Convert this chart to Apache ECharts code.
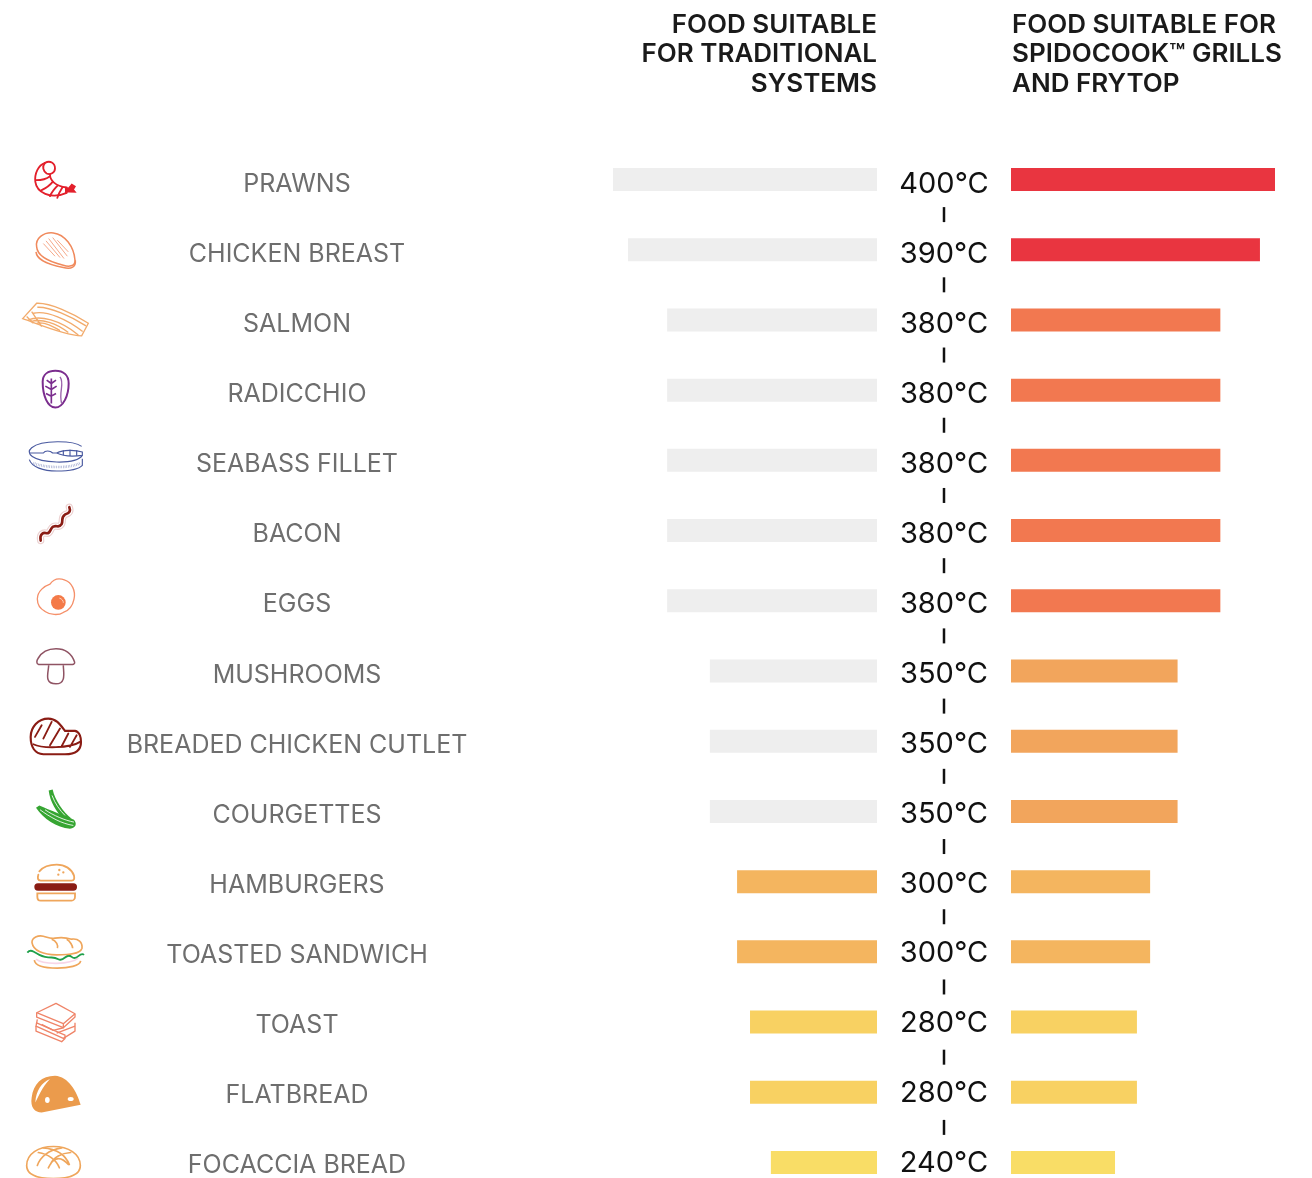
<!DOCTYPE html>
<html>
<head>
<meta charset="utf-8">
<title>Food cooking temperatures</title>
<script src="https://cdn.jsdelivr.net/npm/echarts@6/dist/echarts.min.js"></script>
<style>
    html, body { margin: 0; padding: 0; background: #fff; }
    #chart { width: 1312px; height: 1178px; }
</style>
</head>
<body>
<div id="chart"></div>
<script>
// ──── data ────
const foods = ['PRAWNS', 'CHICKEN BREAST', 'SALMON', 'RADICCHIO', 'SEABASS FILLET', 'BACON', 'EGGS', 'MUSHROOMS',
    'BREADED CHICKEN CUTLET', 'COURGETTES', 'HAMBURGERS', 'TOASTED SANDWICH', 'TOAST', 'FLATBREAD', 'FOCACCIA BREAD'];
const temperatures = [400, 390, 380, 380, 380, 380, 380, 350, 350, 350, 300, 300, 280, 280, 240];
// bar lengths are not proportional to the temperature, so they are read separately (longest bar = 100)
const traditionalLength = [100, 94.3, 79.5, 79.5, 79.5, 79.5, 79.5, 63.3, 63.3, 63.3, 53, 53, 48.1, 48.1, 40.2];
const spidocookLength = [100, 94.3, 79.3, 79.3, 79.3, 79.3, 79.3, 63.1, 63.1, 63.1, 52.7, 52.7, 47.7, 47.7, 39.4];

const GREY = '#eeeeee';
const spidocookColors = ['#e93540', '#e93540', '#f27850', '#f27850', '#f27850', '#f27850', '#f27850',
    '#f2a55c', '#f2a55c', '#f2a55c', '#f4b55f', '#f4b55f', '#f8d162', '#f8d162', '#f9dd66'];
const traditionalColors = spidocookColors.map((c, i) => (i < 10 ? GREY : c));

// ──── food icons, in 3x reference units around each row centre ────
const ICONS = [
    [88, `<g fill="none" stroke="#e3202c" stroke-width="5.5" stroke-linecap="round">
        <path d="M135 38C115 45 103 70 106 95C110 125 150 150 200 128"/>
        <path d="M135 38C150 30 165 38 165 55C165 68 150 75 140 70C130 63 125 50 135 38Z"/>
        <path d="M150 73C150 90 165 108 200 112"/>
        <path d="M108 90C120 90 135 90 150 78M125 120C135 115 150 105 158 95M150 138C155 125 165 115 172 107M172 143C175 130 182 120 187 112"/></g>
        <path fill="#e3202c" d="M195 110L205 112L215 100L228 108L222 118L230 128L205 127L195 130Z"/>`],
    [298.5, `<g fill="none" stroke="#f08a5d" stroke-width="4.5">
        <path d="M110 290C105 265 130 245 160 248C195 252 222 290 225 330C226 350 205 350 190 345C170 340 112 325 110 290Z"/>
        <path d="M108 305C110 325 130 340 190 352C215 358 228 350 226 330"/>
        <path stroke-width="3" stroke="#f6a98a" d="M130 280L165 318M138 272L180 322M146 265L192 325M158 262L202 318M172 270L205 305"/></g>`],
    [510, `<g fill="none" stroke="#f2ab6c" stroke-width="4">
        <path d="M68 506L110 460C150 458 220 490 265 520L245 558C190 555 110 520 68 506Z"/>
        <path d="M85 510C120 495 180 510 235 555M100 490C140 480 205 510 248 545M112 472C150 470 215 500 258 528M92 515C125 505 170 520 205 548M110 520C135 515 160 530 180 542M80 500L100 520M95 485L125 530"/></g>`],
    [720, `<g fill="none" stroke="#7b2d8e" stroke-width="6">
        <path d="M128 695C128 672 145 662 166 662C190 662 206 675 206 700C206 735 190 772 166 772C142 772 128 735 128 695Z"/>
        <path stroke-width="5" d="M154 685V760M154 700L140 690M154 700L168 690M154 718L136 708M154 718L170 708M154 738L138 730M154 738L168 730"/>
        <path stroke-width="4" stroke="#9a62aa" d="M180 680C195 700 175 725 185 760"/></g>`],
    [930, `<g fill="none" stroke="#4a5aa0" stroke-width="3.5">
        <path d="M245 888C220 870 125 868 95 892C75 908 95 932 170 935C210 936 238 928 247 915"/>
        <path d="M88 908H130C135 900 150 900 158 908H170C190 898 225 898 247 905L247 915C225 918 190 918 170 908"/>
        <path d="M190 900V915M210 898V917M230 900V916"/>
        <path d="M88 928C95 950 130 962 170 962C210 962 238 955 247 945V925"/>
        <path stroke="#a3abd0" stroke-width="8" stroke-dasharray="2 3" d="M100 938C130 952 210 956 240 938"/></g>`],
    [120, `<path fill="none" stroke="#ecd2d2" stroke-width="22" stroke-linecap="round" d="M122 150C118 130 130 125 140 128C152 130 150 112 160 108C172 102 175 115 185 100C190 90 182 80 195 72C210 68 212 60 208 50"/>
        <path fill="none" stroke="#fff" stroke-width="15" stroke-linecap="round" d="M122 150C118 130 130 125 140 128C152 130 150 112 160 108C172 102 175 115 185 100C190 90 182 80 195 72C210 68 212 60 208 50"/>
        <path fill="none" stroke="#8a1c14" stroke-width="8" stroke-linecap="round" d="M122 150C118 130 130 125 140 128C152 130 150 112 160 108C172 102 175 115 185 100C190 90 182 80 195 72C210 68 212 60 208 50"/>`],
    [330, `<path fill="none" stroke="#f5906a" stroke-width="4" d="M112 325C112 300 135 285 150 280C160 265 175 260 195 268C215 275 228 300 222 325C218 345 205 360 190 365C175 375 150 372 135 362C122 355 112 345 112 325Z"/>
        <circle cx="175" cy="335" r="22" fill="#f47a48"/>
        <path fill="none" stroke="#fbd1bd" stroke-width="3" d="M178 322C186 324 190 330 190 336"/>`],
    [541.5, `<g fill="none" stroke="#8f5363" stroke-width="4.5">
        <path d="M116 522C108 520 110 510 114 504C125 485 145 475 168 475C195 475 215 490 224 515C225 522 218 522 212 522Z"/>
        <path d="M146 524C146 545 130 580 168 580C200 580 190 545 190 524"/></g>`],
    [753, `<g fill="none" stroke="#8a1c14" stroke-width="6.5" stroke-linecap="round">
        <path d="M92 740C92 710 115 685 145 685C170 685 182 705 195 722H225C240 725 243 745 243 755C243 780 225 792 195 792H130C105 790 92 770 92 740Z"/>
        <path stroke-width="5.5" d="M100 762C125 775 210 775 240 755M125 705L105 740M155 695L130 745M180 715L150 765M205 730L185 768M230 735L210 770"/></g>`],
    [963, `<path fill="#36a532" d="M146 900L158 897C165 930 190 965 215 985H190C170 965 150 935 146 900Z"/>
        <path fill="#36a532" d="M108 952L118 945C150 960 195 975 222 988C232 1000 228 1012 210 1015C170 1012 130 985 108 952Z"/>
        <path fill="none" stroke="#fff" stroke-width="2.5" d="M156 915C165 940 180 960 195 975M120 958C150 980 185 1000 220 1005M135 958C160 975 195 990 222 995"/>`],
    [153, `<g fill="none" stroke="#efa65c" stroke-width="5.5" stroke-linecap="round">
        <path d="M118 122C130 108 150 102 170 102C195 102 215 115 222 135C224 145 222 150 215 150H122C113 150 112 142 115 132"/>
        <path d="M112 188H225V198C225 205 220 210 215 210H122C115 210 112 205 112 198Z"/>
        <path stroke-width="7" d="M178 118V118.1M190 125V125.1M175 132V132.1"/></g>
        <rect x="103" y="158" width="128" height="22" rx="11" fill="#8a1c14"/>`],
    [363, `<path fill="none" stroke="#f7d6e8" stroke-width="5" d="M108 385C130 402 210 402 235 382"/>
        <path fill="none" stroke="#1fa04a" stroke-width="5.5" d="M82 365Q90 356 100 362T118 372T135 378T155 380T175 385T195 380T215 378T235 376T252 372"/>
        <g fill="none" stroke="#efa65c" stroke-width="5">
        <path fill="#fff" d="M96 335C95 320 115 312 130 316C145 320 150 325 165 322C185 318 205 322 215 325C235 322 248 335 246 352C240 370 205 372 170 372C130 372 100 360 96 335Z"/>
        <path d="M155 325C170 330 175 345 172 352M200 325C210 330 218 345 218 352M103 388C105 405 135 412 172 412C205 412 240 405 242 390"/></g>`],
    [573, `<g fill="none" stroke="#ef8468" stroke-width="4" stroke-linejoin="round">
        <path d="M110 545L168 517L225 548V558L190 590L110 558Z"/>
        <path d="M110 545L190 578L225 548M190 578V590"/>
        <path d="M112 565L108 585L190 622L225 600V575"/>
        <path d="M108 585V600L185 632L195 622V612L108 575"/>
        <path d="M125 580L160 598L190 590M170 606L225 585"/></g>`],
    [784.5, `<path fill="#eb9b4c" d="M95 800C100 760 125 735 165 735C205 738 230 780 242 822L125 845C105 845 90 830 95 800Z"/>
        <path fill="#fff" d="M150 745C125 755 108 780 106 815C115 800 125 770 150 745Z"/>
        <ellipse cx="142" cy="808" rx="7" ry="9" fill="#fff"/><ellipse cx="212" cy="805" rx="9" ry="6" fill="#fff"/>`],
    [996, `<g fill="none" stroke="#efa65c" stroke-width="5" stroke-linecap="round">
        <path d="M80 1005C80 970 115 948 160 948C205 948 241 970 241 1005C241 1030 215 1044 160 1044C105 1044 80 1030 80 1005Z"/>
        <path d="M112 1005C120 980 145 958 185 952M145 1012C155 990 175 968 205 1002M208 1002C195 970 165 955 130 952M178 1012C170 990 145 970 115 966M212 966C185 968 160 980 152 1000"/></g>`],
];

function iconSymbol([cy, body]) {
    const svg = `<svg xmlns="http://www.w3.org/2000/svg" width="80" height="80" viewBox="48 ${cy - 120} 240 240">${body}</svg>`;
    return 'image://data:image/svg+xml;charset=utf-8,' + encodeURIComponent(svg);
}

// ──── layout: rows sit on the axis points, first row centre to last row centre ────
const BAR_TOP = 179.5, ROWS_H = 983, LABEL_TOP = BAR_TOP + 5;
const SANS = 'Inter, "Noto Sans", sans-serif';

const rowGrid = (left, width, top) => ({ left, width, top, height: ROWS_H });
const hiddenX = (gridIndex, inverse) => ({
    gridIndex, type: 'value', min: 0, max: 100, inverse: !!inverse, show: false,
});
const rowAxis = (gridIndex, axisLabel) => ({
    gridIndex, type: 'category', data: foods, inverse: true, boundaryGap: false,
    axisLine: { show: false }, axisTick: { show: false }, splitLine: { show: false },
    axisLabel: axisLabel
        ? Object.assign({ show: true, interval: 0, margin: 0, align: 'center', hideOverlap: false }, axisLabel)
        : { show: false },
});
const headerTitle = (text, left, textAlign) => ({
    text, left, top: 10, textAlign, padding: 0,
    textStyle: { fontFamily: SANS, fontSize: 26, fontWeight: 600, lineHeight: 29.5, color: '#1a1a1a' },
});

const option = {
    animation: false,
    backgroundColor: '#fff',
    title: [
        headerTitle('FOOD SUITABLE\nFOR TRADITIONAL\nSYSTEMS', 877, 'right'),
        headerTitle('FOOD SUITABLE FOR\nSPIDOCOOK™ GRILLS\nAND FRYTOP', 1012, 'left'),
    ],
    grid: [
        rowGrid(613, 264, BAR_TOP),
        rowGrid(1011, 264, BAR_TOP),
        rowGrid(297, 1, LABEL_TOP),
        rowGrid(944, 1, LABEL_TOP),
        rowGrid(944, 1, BAR_TOP),
        rowGrid(56, 1, BAR_TOP),
    ],
    xAxis: [hiddenX(0, true), hiddenX(1), hiddenX(2), hiddenX(3), hiddenX(4), hiddenX(5)],
    yAxis: [
        rowAxis(0),
        rowAxis(1),
        rowAxis(2, { fontFamily: SANS, fontSize: 25, color: '#6e6e6e' }),
        rowAxis(3, {
            fontFamily: SANS, fontSize: 29, color: '#111',
            formatter: (v, i) => `${temperatures[i]}°C`,
        }),
        rowAxis(4),
        rowAxis(5),
    ],
    series: [
        {
            type: 'bar', xAxisIndex: 0, yAxisIndex: 0, barWidth: 23, silent: true, clip: false,
            data: traditionalLength.map((v, i) => ({ value: v, itemStyle: { color: traditionalColors[i] } })),
        },
        {
            type: 'bar', xAxisIndex: 1, yAxisIndex: 1, barWidth: 23, silent: true, clip: false,
            data: spidocookLength.map((v, i) => ({ value: v, itemStyle: { color: spidocookColors[i] } })),
        },
        {
            // short separators between the temperature labels
            type: 'custom', xAxisIndex: 4, yAxisIndex: 4, silent: true, clip: false,
            data: foods.slice(0, -1).map((f, i) => [0, i]),
            renderItem(params, api) {
                const p = api.coord([0, api.value(1)]);
                const next = api.coord([0, api.value(1) + 1]);
                return {
                    type: 'rect',
                    shape: { x: p[0] - 1.25, y: (p[1] + next[1]) / 2 - 7.5, width: 2.5, height: 15 },
                    style: { fill: '#111' },
                };
            },
        },
        {
            type: 'scatter', xAxisIndex: 5, yAxisIndex: 5, silent: true, clip: false, symbolSize: 80,
            itemStyle: { opacity: 1 },
            data: foods.map((f, i) => ({ value: [0, i], symbol: iconSymbol(ICONS[i]) })),
        },
    ],
};

echarts.init(document.getElementById('chart'), null, { renderer: 'canvas' }).setOption(option);
</script>
</body>
</html>
